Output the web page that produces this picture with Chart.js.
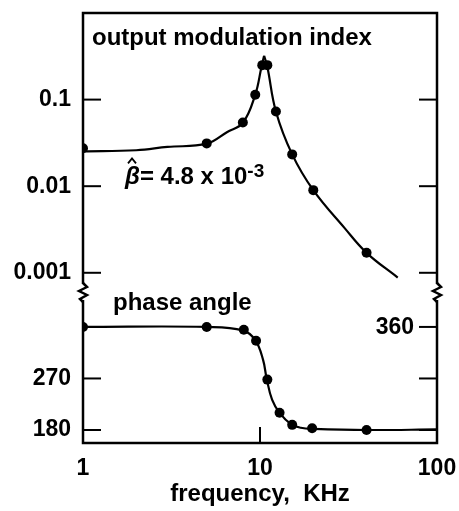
<!DOCTYPE html>
<html><head><meta charset="utf-8">
<script src="https://cdn.jsdelivr.net/npm/chart.js@4"></script>
<style>html,body{margin:0;padding:0;background:#fff}#wrap{width:459px;height:511px;position:relative}</style>
</head><body><div id="wrap"><canvas id="c"></canvas></div>
<script>
// measured markers: output modulation index
const pointFreq = [1, 5, 8, 9.4, 10.3, 11, 12.3, 15.2, 20, 40];
const pointMod  = [0.0274, 0.0312, 0.0544, 0.114, 0.25, 0.25, 0.073, 0.0233, 0.009, 0.0017];
// fitted curve, rising and falling branches
const riseFreq = [1, 2, 3, 5, 6.5, 8, 9.4, 10.2, 10.55];
const riseMod  = [0.0253, 0.026, 0.0284, 0.031, 0.042, 0.054, 0.114, 0.24, 0.32];
const fallFreq = [10.55, 11, 12.3, 15.2, 20, 30, 40, 60];
const fallMod  = [0.32, 0.24, 0.073, 0.0233, 0.009, 0.0033, 0.0017, 0.00088];
// phase angle
const phasePointFreq = [1, 5, 8.1, 9.5, 11, 12.9, 15.2, 19.7, 40];
const phasePoint     = [360, 360, 355, 336, 268, 210, 189, 183, 180];
const phaseCurveFreq = [1, 5, 8, 9.4, 10.4, 10.9, 11.7, 12.9, 15, 17, 20, 40, 100];
const phaseCurve     = [360, 360, 354, 337, 303, 270, 233, 210, 190, 184, 182, 180, 181];
// ticks
const xTicks = [1, 10, 100];
const xTickLabels = ['1', '10', '100'];
const modTicks = [0.1, 0.01, 0.001];
const modTickLabels = ['0.1', '0.01', '0.001'];
const phaseLeftTicks = [270, 180];
const phaseLeftLabels = ['270', '180'];
const phaseRightTicks = [360, 270, 180];
const phaseRightLabels = ['360', '', ''];
// texts
const modTitle = 'output modulation index';
const phaseTitle = 'phase angle';
const betaText = ['\u03B2', '= 4.8 x 10', '-3'];
const xTitle = 'frequency,  KHz';

const FONT = '"Liberation Sans", Arial, sans-serif';
const pts = (xs, ys) => xs.map((x, i) => ({x: x, y: ys[i]}));

const deco = {
  id: 'deco',
  afterDraw(chart) {
    const ctx = chart.ctx, a = chart.chartArea;
    const sx = chart.scales.x, yT = chart.scales.yTop, yB = chart.scales.yBot;
    ctx.save();
    ctx.strokeStyle = '#000'; ctx.fillStyle = '#000';
    // frame
    ctx.lineWidth = 2.5;
    ctx.strokeRect(a.left, a.top, a.right - a.left, a.bottom - a.top);
    // inward ticks
    ctx.lineWidth = 2;
    const tl = 18;
    const hline = (x0, x1, y) => { ctx.beginPath(); ctx.moveTo(x0, y); ctx.lineTo(x1, y); ctx.stroke(); };
    modTicks.forEach(v => { const y = yT.getPixelForValue(v); hline(a.left, a.left + tl, y); hline(a.right - tl, a.right, y); });
    phaseLeftTicks.forEach(v => { const y = yB.getPixelForValue(v); hline(a.left, a.left + tl, y); });
    phaseRightTicks.forEach(v => { const y = yB.getPixelForValue(v); hline(a.right - tl, a.right, y); });
    xTicks.forEach(v => { const x = sx.getPixelForValue(v); ctx.beginPath(); ctx.moveTo(x, a.bottom); ctx.lineTo(x, a.bottom - 16); ctx.stroke(); });
    // right label 360 (inside)
    ctx.font = 'bold 23px ' + FONT; ctx.textAlign = 'right'; ctx.textBaseline = 'middle';
    phaseRightTicks.forEach((v, i) => { if (phaseRightLabels[i]) ctx.fillText(phaseRightLabels[i], a.right - tl - 5, yB.getPixelForValue(v) + 1); });
    // axis break marks
    const yb = yB.top;
    [a.left, a.right].forEach(x => {
      ctx.fillStyle = '#fff'; ctx.fillRect(x - 3, yb - 8, 6, 16);
      ctx.strokeStyle = '#000'; ctx.lineWidth = 2.5; ctx.lineJoin = 'miter';
      ctx.beginPath();
      ctx.moveTo(x, yb - 9); ctx.lineTo(x + 4, yb - 5); ctx.lineTo(x - 4, yb - 1);
      ctx.lineTo(x + 4, yb + 3); ctx.lineTo(x - 3, yb + 7); ctx.lineTo(x, yb + 10);
      ctx.stroke();
    });
    ctx.fillStyle = '#000';
    // annotations
    ctx.textAlign = 'left'; ctx.textBaseline = 'alphabetic';
    ctx.font = 'bold 24px ' + FONT;
    ctx.fillText(modTitle, sx.getPixelForValue(1.124), yT.getPixelForValue(0.43));
    ctx.fillText(phaseTitle, sx.getPixelForValue(1.477), yB.getPixelForValue(390));
    let bx = sx.getPixelForValue(1.727), by = yT.getPixelForValue(0.0105);
    ctx.font = 'italic bold 24px ' + FONT;
    ctx.fillText(betaText[0], bx, by);
    const bw = ctx.measureText(betaText[0]).width;
    // hat over beta
    ctx.lineWidth = 1.8;
    ctx.beginPath(); ctx.moveTo(bx + 3, by - 21); ctx.lineTo(bx + 7, by - 26); ctx.lineTo(bx + 11, by - 21); ctx.stroke();
    bx += bw;
    ctx.font = 'bold 24px ' + FONT;
    ctx.fillText(betaText[1], bx, by);
    bx += ctx.measureText(betaText[1]).width;
    ctx.font = 'bold 19px ' + FONT;
    ctx.fillText(betaText[2], bx, by - 7);
    ctx.restore();
  }
};

const tickFont = {family: FONT, size: 23, weight: 'bold'};
new Chart(document.getElementById('c'), {
  type: 'line',
  data: {
    datasets: [
      {label: 'rise', data: pts(riseFreq, riseMod), yAxisID: 'yTop', borderColor: '#000', borderWidth: 2.2, pointRadius: 0, tension: 0.4},
      {label: 'fall', data: pts(fallFreq, fallMod), yAxisID: 'yTop', borderColor: '#000', borderWidth: 2.2, pointRadius: 0, tension: 0.4},
      {label: 'mod points', data: pts(pointFreq, pointMod), yAxisID: 'yTop', showLine: false, pointRadius: 5, pointBackgroundColor: '#000', pointBorderColor: '#000', borderWidth: 0},
      {label: 'phase curve', data: pts(phaseCurveFreq, phaseCurve), yAxisID: 'yBot', borderColor: '#000', borderWidth: 2.2, pointRadius: 0, tension: 0.4},
      {label: 'phase points', data: pts(phasePointFreq, phasePoint), yAxisID: 'yBot', showLine: false, pointRadius: 5, pointBackgroundColor: '#000', pointBorderColor: '#000', borderWidth: 0}
    ]
  },
  options: {
    responsive: true, maintainAspectRatio: false, animation: false,
    layout: {padding: {left: 0, right: 22, top: 13, bottom: 0}},
    plugins: {legend: {display: false}, tooltip: {enabled: false}},
    scales: {
      x: {
        type: 'logarithmic', min: 1, max: 100, position: 'bottom',
        grid: {display: false, drawTicks: false}, border: {display: false},
        afterBuildTicks: s => { s.ticks = xTicks.map(v => ({value: v})); },
        afterFit: s => { s.height = 68; s.paddingLeft = 0; s.paddingRight = 0; },
        ticks: {autoSkip: false, maxRotation: 0, padding: 12, color: '#000', font: tickFont,
          callback: (v) => { const i = xTicks.indexOf(v); return i >= 0 ? xTickLabels[i] : ''; }},
        title: {display: true, text: xTitle, color: '#000', font: {family: FONT, size: 24, weight: 'bold'}, padding: {top: 4, bottom: 2}}
      },
      yBot: {
        type: 'linear', min: 157.3, max: 421, position: 'left', stack: 'v', stackWeight: 151,
        grid: {display: false, drawTicks: false}, border: {display: false},
        afterBuildTicks: s => { s.ticks = phaseLeftTicks.map(v => ({value: v})); },
        afterFit: s => { s.width = 83; s.paddingTop = 0; s.paddingBottom = 0; },
        ticks: {autoSkip: false, padding: 12, color: '#000', font: tickFont,
          callback: (v) => { const i = phaseLeftTicks.indexOf(v); return i >= 0 ? phaseLeftLabels[i] : ''; }}
      },
      yTop: {
        type: 'logarithmic', min: 0.000621, max: 1, position: 'left', stack: 'v', stackWeight: 279,
        grid: {display: false, drawTicks: false}, border: {display: false},
        afterBuildTicks: s => { s.ticks = modTicks.map(v => ({value: v})); },
        afterFit: s => { s.width = 83; s.paddingTop = 0; s.paddingBottom = 0; },
        ticks: {autoSkip: false, padding: 12, color: '#000', font: tickFont,
          callback: (v) => { const i = modTicks.indexOf(v); return i >= 0 ? modTickLabels[i] : ''; }}
      }
    }
  },
  plugins: [deco]
});
</script></body></html>
